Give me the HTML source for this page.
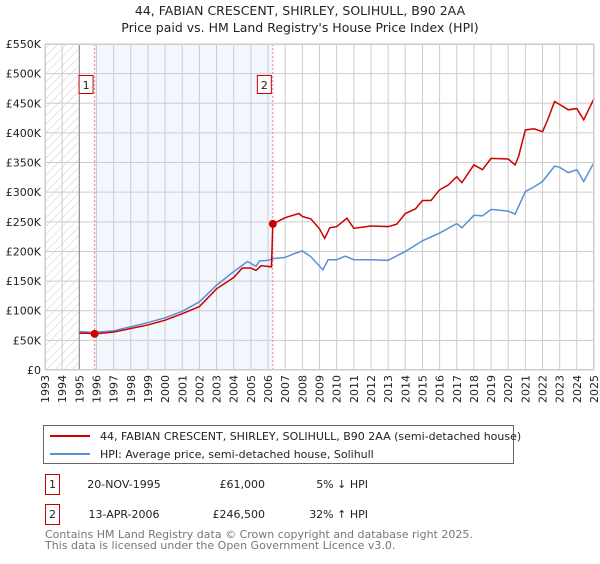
<!DOCTYPE html>
<html><head><meta charset="utf-8"><style>
body{margin:0;background:#fff;font-family:"DejaVu Sans","Liberation Sans",sans-serif;}
svg text{font-family:"DejaVu Sans","Liberation Sans",sans-serif;}
</style></head><body>
<svg id="c" width="600" height="560" viewBox="0 0 600 560" xmlns="http://www.w3.org/2000/svg">
<defs><pattern id="h" width="6" height="6" patternUnits="userSpaceOnUse" patternTransform="rotate(45)"><line x1="0" y1="0" x2="0" y2="6" stroke="#ccc" stroke-width="1"/></pattern></defs>
<text x="300" y="15" text-anchor="middle" font-size="12.5" fill="#222">44, FABIAN CRESCENT, SHIRLEY, SOLIHULL, B90 2AA</text>
<text x="300" y="32" text-anchor="middle" font-size="12.5" fill="#222">Price paid vs. HM Land Registry's House Price Index (HPI)</text>
<g id="plot"></g>
<g>
<rect x="43.5" y="425.5" width="470" height="38" fill="#fff" stroke="#666"/>
<line x1="50" y1="436" x2="90" y2="436" stroke="#cc0000" stroke-width="2"/>
<text x="100" y="440" font-size="11" fill="#222">44, FABIAN CRESCENT, SHIRLEY, SOLIHULL, B90 2AA (semi-detached house)</text>
<line x1="50" y1="454" x2="90" y2="454" stroke="#5b8fd6" stroke-width="2"/>
<text x="100" y="458" font-size="11" fill="#222">HPI: Average price, semi-detached house, Solihull</text>
</g>
<g font-size="11" fill="#222">
<rect x="45.5" y="474.5" width="14" height="20" fill="#fff" stroke="#cc0000"/><text x="52.5" y="488" text-anchor="middle">1</text>
<text x="124" y="488" text-anchor="middle">20-NOV-1995</text><text x="265" y="488" text-anchor="end">£61,000</text><text x="368" y="488" text-anchor="end">5% ↓ HPI</text>
<rect x="45.5" y="504.5" width="14" height="20" fill="#fff" stroke="#cc0000"/><text x="52.5" y="518" text-anchor="middle">2</text>
<text x="124" y="518" text-anchor="middle">13-APR-2006</text><text x="265" y="518" text-anchor="end">£246,500</text><text x="368" y="518" text-anchor="end">32% ↑ HPI</text>
</g>
</svg>
<script>
const years=[1993,1994,1995,1996,1997,1998,1999,2000,2001,2002,2003,2004,2005,2006,2007,2008,2009,2010,2011,2012,2013,2014,2015,2016,2017,2018,2019,2020,2021,2022,2023,2024,2025];
const yTicks=[0,50,100,150,200,250,300,350,400,450,500,550];
const hpiT=[1995,1995.5,1996,1997,1998,1999,2000,2001,2002,2003,2004,2004.8,2005.3,2005.5,2006,2006.3,2007,2007.5,2008,2008.5,2009.2,2009.5,2010,2010.5,2011,2012,2013,2014,2015,2016,2017,2017.3,2018,2018.5,2019,2020,2020.4,2021,2021.5,2022,2022.7,2023,2023.5,2024,2024.4,2025];
const hpiV=[65,64,64,66,73,80,88,99,115,143,166,183,175,184,185,188,190,196,201,191,169,186,186,192,186,186,185,200,218,231,247,240,261,260,271,268,263,301,309,318,344,342,333,338,318,350];
const redT=[1995,1995.5,1995.89,1997,1998,1999,2000,2001,2002,2003,2004,2004.5,2005,2005.3,2005.6,2006.2,2006.28,2007,2007.8,2008,2008.5,2009,2009.3,2009.6,2010,2010.6,2011,2012,2013,2013.5,2014,2014.6,2015,2015.5,2016,2016.5,2017,2017.3,2018,2018.5,2019,2020,2020.4,2020.6,2021,2021.5,2022,2022.3,2022.7,2023,2023.5,2024,2024.4,2025];
const redV=[62,62,61,64,70,76,84,95,107,137,156,172,172,168,176,174,246.5,257,264,259,255,238,222,240,242,256,239,243,242,246,264,272,286,286,304,312,326,316,346,338,357,356,346,360,405,407,402,422,453,448,439,441,422,458];
const saleT=[1995.89,2006.28];
const saleV=[61,246.5];
const saleLabels=["1","2"];
const L=45,R=594,T=44,B=370;
const x=t=>L+(t-1993)/(2025-1993)*(R-L);
const y=v=>B-v/550*(B-T);
const g=document.getElementById('plot');
const NS='http://www.w3.org/2000/svg';
function mk(tag,attrs){const e=document.createElementNS(NS,tag);for(const k in attrs)e.setAttribute(k,attrs[k]);g.appendChild(e);return e;}
let e;
e=mk('rect',{x:x(saleT[0]),y:T,width:x(saleT[1])-x(saleT[0]),height:B-T,fill:'#f2f6fd'});


e=mk('rect',{x:L,y:T,width:x(1995)-L,height:B-T,fill:'url(#h)'});


years.forEach(yr=>{
 e=mk('line',{x1:x(yr),x2:x(yr),y1:T,y2:B,stroke:'#ccc','stroke-width':1});
 
 
 e=mk('text',{x:0,y:0,'font-size':11,fill:'#222','text-anchor':'end',transform:`translate(${x(yr)+4},${B+5}) rotate(-90)`});
 e.textContent=yr;
 
 
});
yTicks.forEach(v=>{
 e=mk('line',{x1:L,x2:R,y1:y(v),y2:y(v),stroke:'#ccc','stroke-width':1});
 
 
 e=mk('text',{x:41,y:y(v)+4,'font-size':11,fill:'#222','text-anchor':'end'});
 e.textContent=v===0?'£0':'£'+v+'K';
 
 
});
e=mk('line',{x1:x(1995),x2:x(1995),y1:T,y2:B,stroke:'#888','stroke-width':1});


saleT.forEach((t,i)=>{
 e=mk('line',{x1:x(t),x2:x(t),y1:T,y2:B,stroke:'#f08080','stroke-width':1,'stroke-dasharray':'2,2'});
 
 
 e=mk('rect',{x:x(t)-15.5,y:75.5,width:14,height:18,fill:'#fff',stroke:'#cc0000'});
 
 
 e=mk('text',{x:x(t)-8.5,y:89,'font-size':11,fill:'#222','text-anchor':'middle'});
 e.textContent=saleLabels[i];
 
 
});
e=mk('polyline',{points:hpiT.map((t,i)=>x(t)+','+y(hpiV[i])).join(' '),fill:'none',stroke:'#5b8fd6','stroke-width':1.5});


e=mk('polyline',{points:redT.map((t,i)=>x(t)+','+y(redV[i])).join(' '),fill:'none',stroke:'#cc0000','stroke-width':1.5});


saleT.forEach((t,i)=>{
 e=mk('circle',{cx:x(t),cy:y(saleV[i]),r:4,fill:'#cc0000'});
 
 
});
e=mk('rect',{x:L+0.5,y:T+0.5,width:R-L-1,height:B-T-1,fill:'none',stroke:'#ccc'});


</script>
<div style="position:absolute;left:45px;top:529px;font-size:11px;color:#777;line-height:11px;font-family:'DejaVu Sans','Liberation Sans',sans-serif">Contains HM Land Registry data © Crown copyright and database right 2025.<br>This data is licensed under the Open Government Licence v3.0.</div>
</body></html>
